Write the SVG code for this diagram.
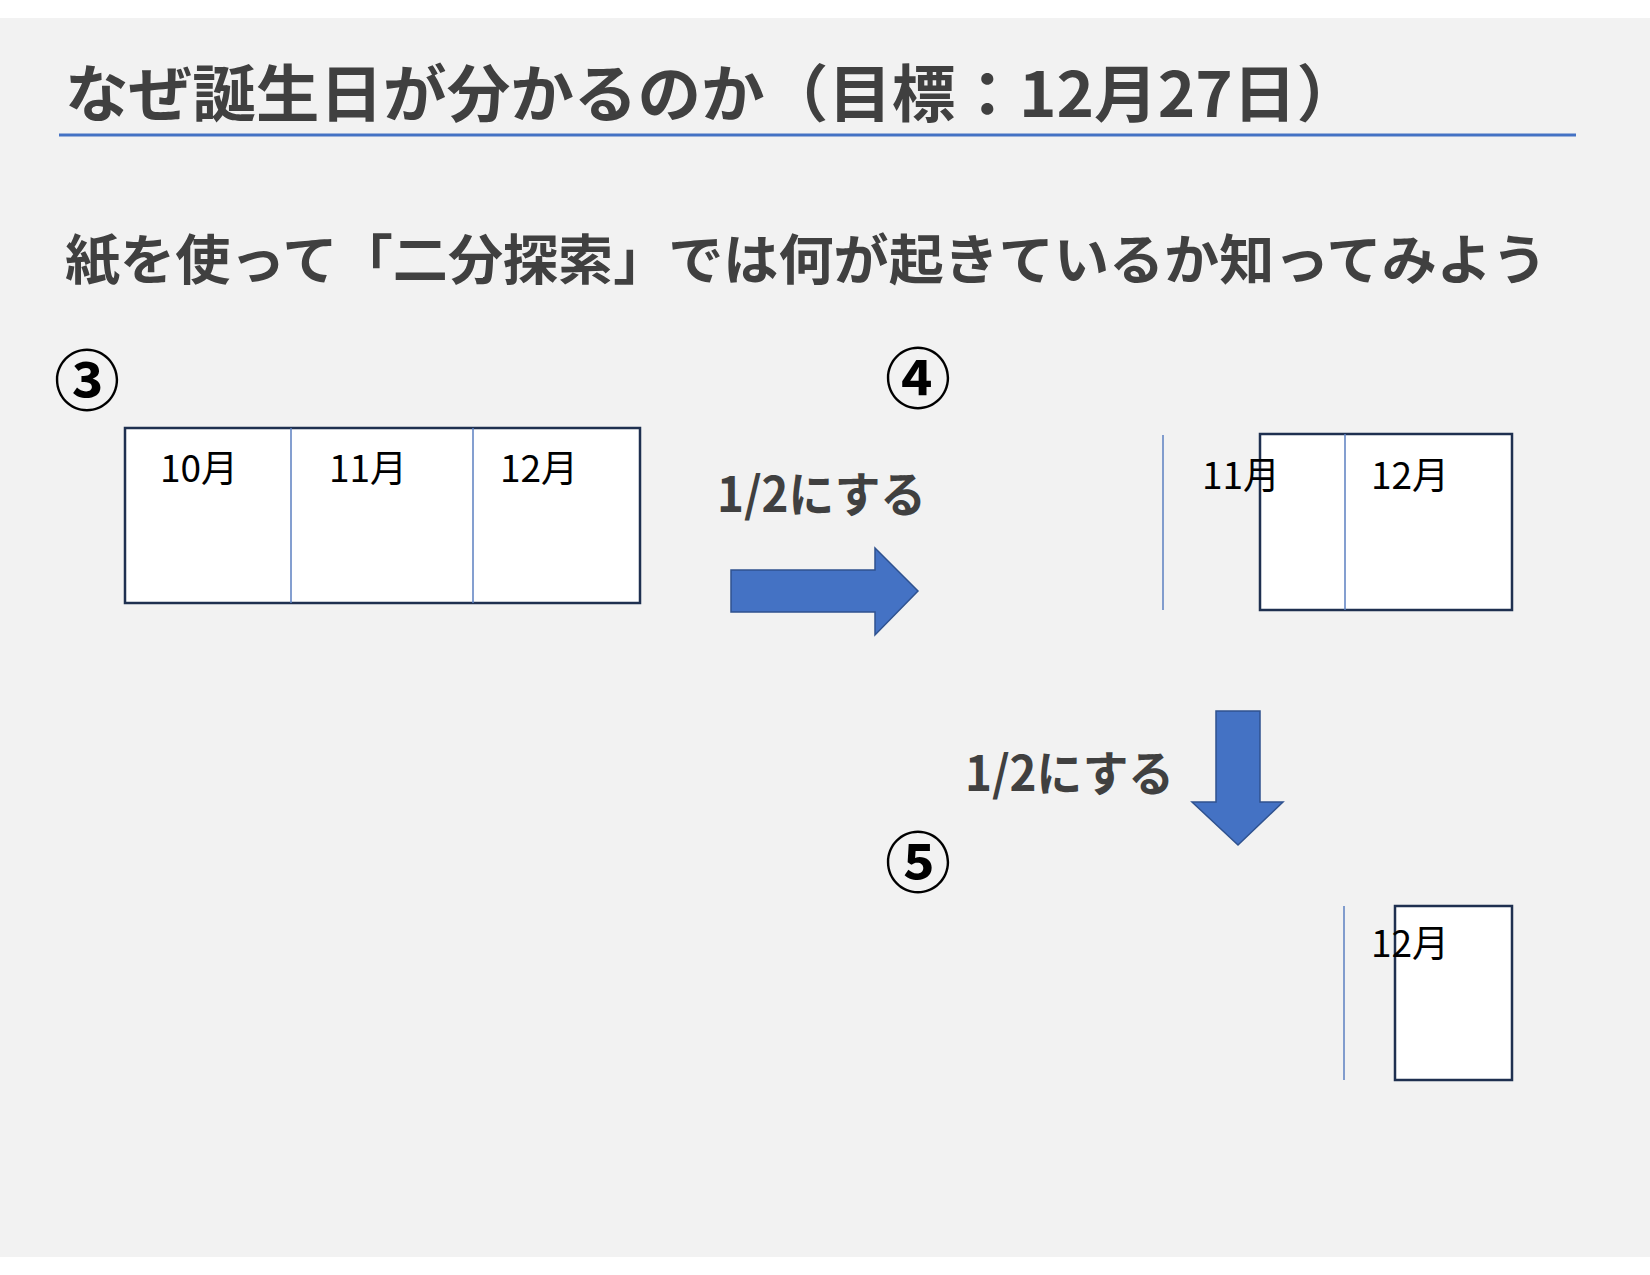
<svg xmlns="http://www.w3.org/2000/svg" width="1650" height="1275" viewBox="0 0 1650 1275">
<style>
.h{font-family:"Noto Sans CJK JP","Liberation Sans",sans-serif;font-weight:700;fill:#404040}
.num{font-family:"Noto Sans CJK JP","Liberation Sans",sans-serif;font-weight:700;fill:#000;font-size:66px;text-anchor:middle}
.m{font-family:"Noto Sans CJK JP","Liberation Sans",sans-serif;font-weight:400;fill:#000;font-size:37px}
.paper{fill:#fff;stroke:#1F3050;stroke-width:2.5}
.fold{stroke:#5B7FC0;stroke-width:1.5;fill:none}
.arrow{fill:#4472C4;stroke:#2F528F;stroke-width:1.5;stroke-linejoin:miter}
</style>
<rect x="0" y="0" width="1650" height="1275" fill="#fff"/>
<rect x="0" y="18" width="1650" height="1239" fill="#F2F2F2"/>
<g id="title">
<text class="h" x="65" y="117" font-size="62" textLength="1295" lengthAdjust="spacingAndGlyphs">なぜ誕生日が分かるのか（目標：12月27日）</text>
<line x1="59" y1="135" x2="1576" y2="135" stroke="#4472C4" stroke-width="3"/>
</g>
<g id="subtitle">
<text class="h" x="65" y="280" font-size="54" textLength="1482" lengthAdjust="spacingAndGlyphs">紙を使って「二分探索」では何が起きているか知ってみよう</text>
</g>
<g id="step3">
<text class="num" x="87" y="405">③</text>
<rect class="paper" x="125" y="428" width="515" height="175"/>
<line class="fold" x1="291" y1="428" x2="291" y2="603"/>
<line class="fold" x1="473" y1="428" x2="473" y2="603"/>
<text class="m" x="160" y="482">10月</text>
<text class="m" x="329" y="482">11月</text>
<text class="m" x="500" y="482">12月</text>
</g>
<g id="step4">
<text class="num" x="918" y="403">④</text>
<line class="fold" x1="1163" y1="435" x2="1163" y2="610"/>
<rect class="paper" x="1260" y="434" width="252" height="176"/>
<line class="fold" x1="1345" y1="434" x2="1345" y2="610"/>
<text class="m" x="1202" y="489">11月</text>
<text class="m" x="1371" y="489">12月</text>
</g>
<g id="step5">
<text class="num" x="918" y="887">⑤</text>
<line class="fold" x1="1344" y1="906" x2="1344" y2="1080"/>
<rect class="paper" x="1395" y="906" width="117" height="174"/>
<text class="m" x="1371" y="957">12月</text>
</g>
<g id="connectors">
<g id="arrow-right">
<path class="arrow" d="M731,570 H875 V548 L918,591 L875,635 V612 H731 Z"/>
<text class="h" x="717" y="512" font-size="48" textLength="209" lengthAdjust="spacingAndGlyphs">1/2にする</text>
</g>
<g id="arrow-down">
<path class="arrow" d="M1216,711 H1260 V802 H1283 L1238,845 L1192,802 H1216 Z"/>
<text class="h" x="965" y="791" font-size="48" textLength="209" lengthAdjust="spacingAndGlyphs">1/2にする</text>
</g>
</g>
</svg>
